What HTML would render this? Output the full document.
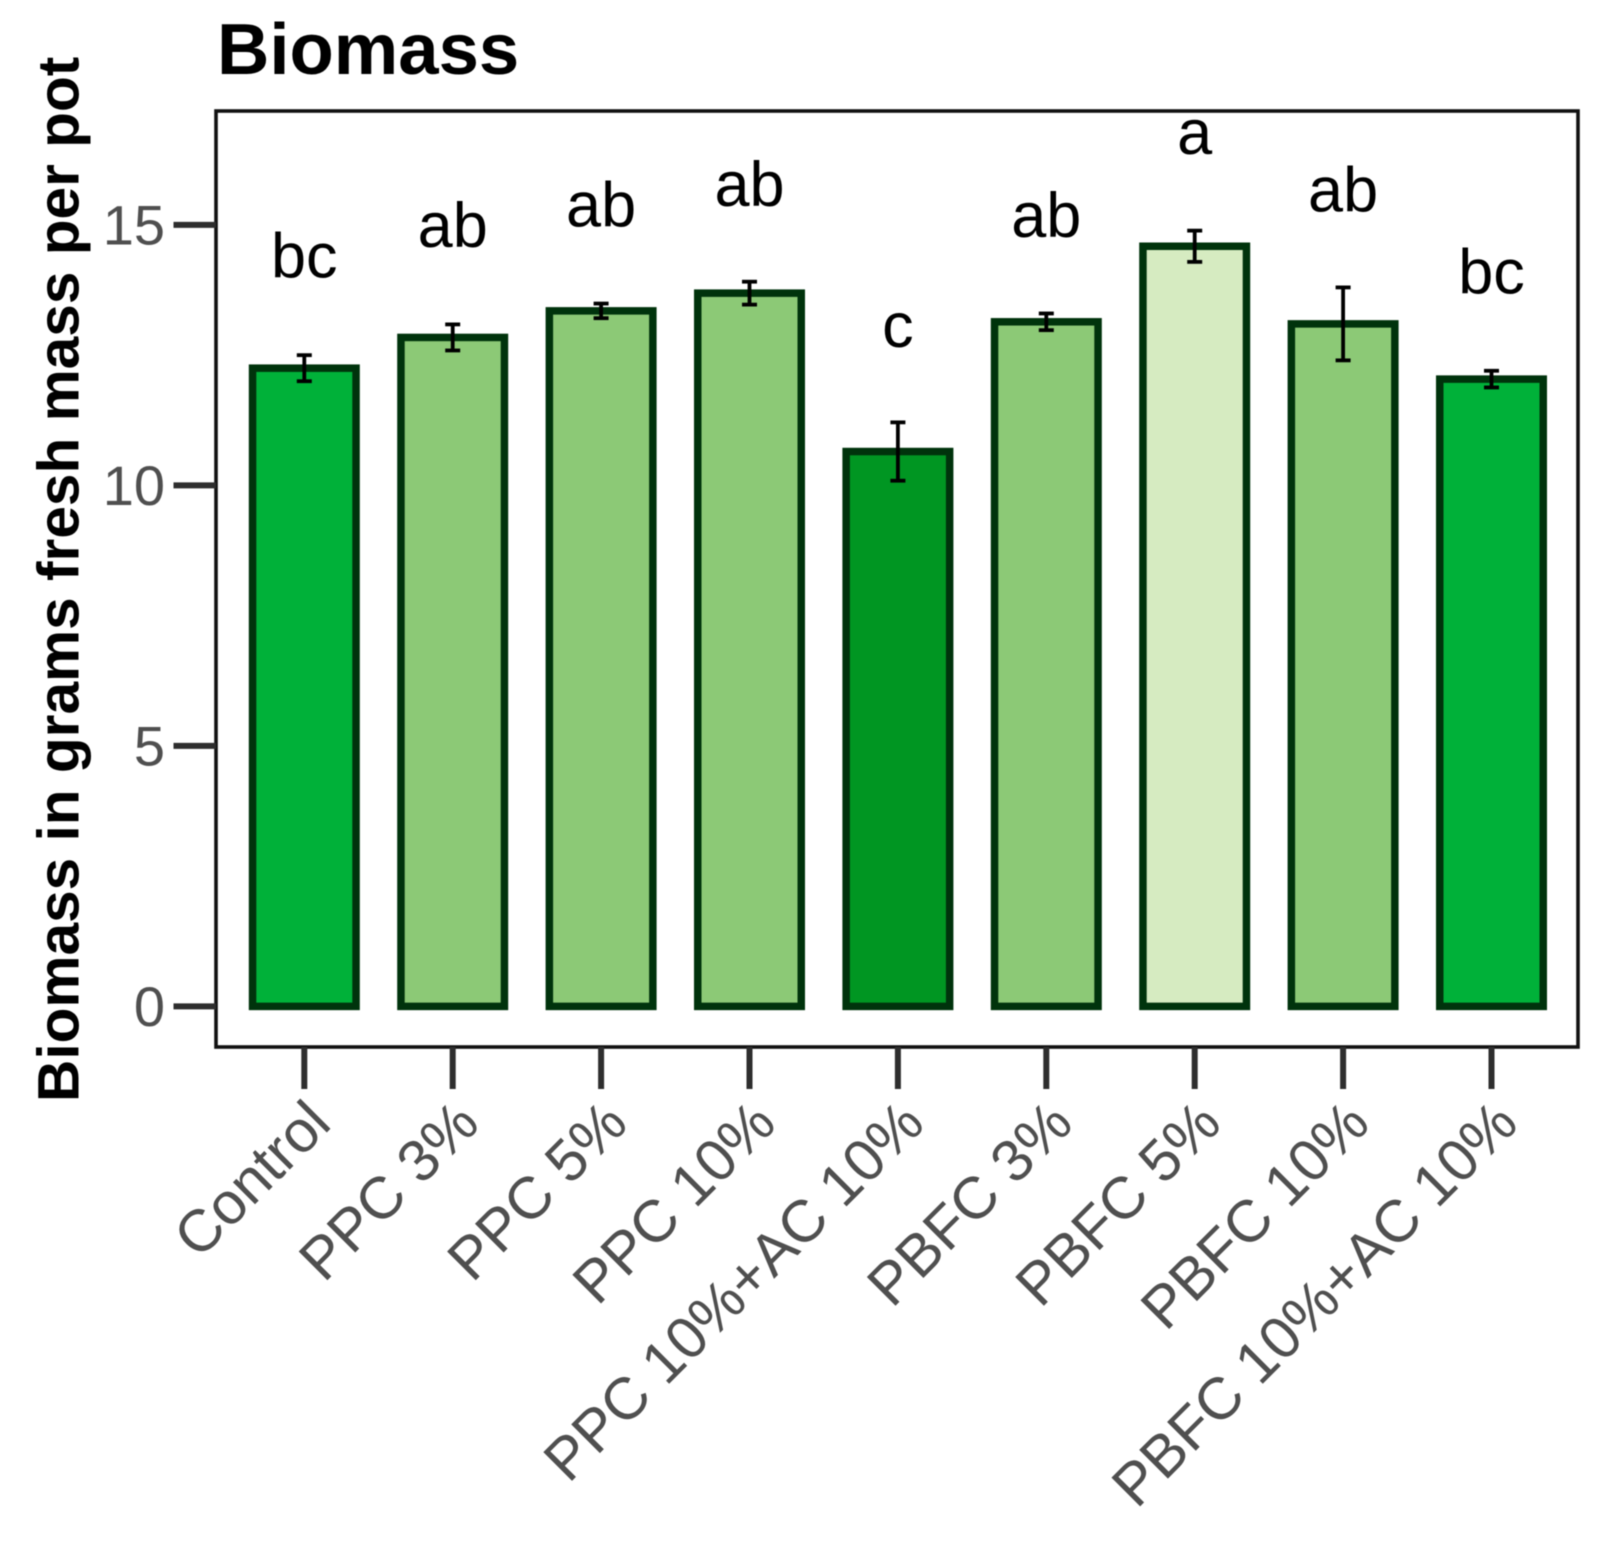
<!DOCTYPE html>
<html>
<head>
<meta charset="utf-8">
<title>Biomass</title>
<style>
html,body{margin:0;padding:0;background:#fff;width:1602px;height:1546px;overflow:hidden}
svg{display:block;font-family:"Liberation Sans",Arial,sans-serif;filter:blur(0.5px)}
</style>
</head>
<body>
<svg id="chart" xmlns="http://www.w3.org/2000/svg" width="1602" height="1546" viewBox="0 0 1602 1546">
  <rect x="0" y="0" width="1602" height="1546" fill="#fff"/>
  <text x="217" y="74" font-size="72.5" font-weight="700" fill="#000">Biomass</text>
  <text transform="translate(78.5,1102) rotate(-90)" font-size="58.6" font-weight="700" fill="#000">Biomass in grams fresh mass per pot</text>
  <g id="plot"></g>
</svg>
<script>
const categories = ["Control","PPC 3%","PPC 5%","PPC 10%","PPC 10%+AC 10%","PBFC 3%","PBFC 5%","PBFC 10%","PBFC 10%+AC 10%"];
const means = [12.25,12.84,13.35,13.69,10.65,13.14,14.59,13.10,12.04];
const errors = [0.25,0.25,0.14,0.22,0.56,0.16,0.30,0.70,0.16];
const letters = ["bc","ab","ab","ab","c","ab","a","ab","bc"];
const letterLevels = [13.99,14.58,14.97,15.36,12.66,14.77,16.36,15.26,13.68];
const groupShades = ["mid","light","light","light","dark","light","pale","light","mid"];
const yTicks = [0,5,10,15];

const shadeColors = {mid:"#00b139",light:"#8cc976",dark:"#009622",pale:"#d6ebc1"};
const NS = "http://www.w3.org/2000/svg";
const plot = document.getElementById("plot");
const panel = {left:216, right:1578, top:111, bottom:1047};
const y0 = 1006.4, unit = 52.1, x0 = 304.3, step = 148.4, barW = 103.5;
function xScale(i){ return x0 + step * i; }
function yScale(v){ return y0 - unit * v; }
function mk(tag, attrs, parent){
  const el = document.createElementNS(NS, tag);
  for (const k in attrs) el.setAttribute(k, attrs[k]);
  (parent || plot).appendChild(el);
  return el;
}

const frame = mk("rect",{x:panel.left,y:panel.top,width:panel.right-panel.left,height:panel.bottom-panel.top,fill:"#fff",stroke:"#111","stroke-width":3.6});



yTicks.forEach(function(t){
  const tick = mk("line",{x1:173.5,x2:panel.left,y1:yScale(t),y2:yScale(t),stroke:"#2e2e2e","stroke-width":6});
  
  
  const lab = mk("text",{x:165,y:yScale(t)+19.5,"text-anchor":"end","font-size":56,fill:"#4f4f4f"});
  lab.textContent = String(t);
  
  
});

categories.forEach(function(c,i){
  const cx = xScale(i);
  const bar = mk("rect",{x:cx-barW/2,y:yScale(means[i]),width:barW,height:y0-yScale(means[i]),fill:shadeColors[groupShades[i]],stroke:"#00330c","stroke-width":7.5});
  
  

  const hi = yScale(means[i]+errors[i]), lo = yScale(means[i]-errors[i]);
  const stem = mk("line",{x1:cx,x2:cx,y1:hi,y2:lo,stroke:"#000","stroke-width":3.8});
  
  
  const capT = mk("line",{x1:cx-7.5,x2:cx+7.5,y1:hi,y2:hi,stroke:"#000","stroke-width":3.8});
  
  
  const capB = mk("line",{x1:cx-7.5,x2:cx+7.5,y1:lo,y2:lo,stroke:"#000","stroke-width":3.8});
  
  

  const sig = mk("text",{x:cx,y:yScale(letterLevels[i]),"text-anchor":"middle","font-size":63,fill:"#000"});
  sig.textContent = letters[i];
  
  

  const tick = mk("line",{x1:cx,x2:cx,y1:panel.bottom,y2:1089,stroke:"#2e2e2e","stroke-width":6});
  
  

  const lab = mk("text",{transform:"translate("+(cx+29)+",1126) rotate(-45)","text-anchor":"end","font-size":59,fill:"#4f4f4f"});
  lab.textContent = c;
  
  
});
</script>
</body>
</html>
